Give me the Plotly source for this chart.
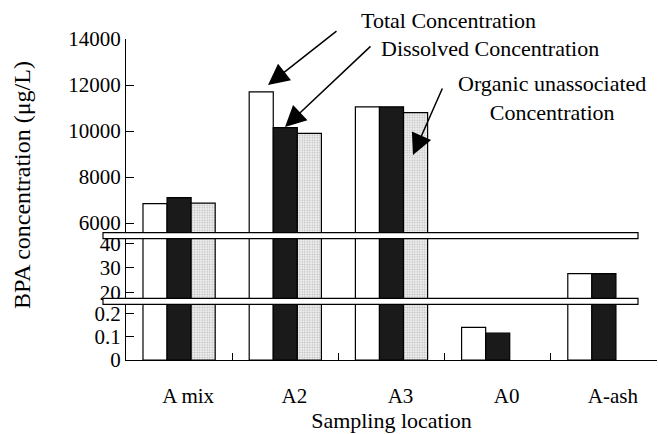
import plotly.graph_objects as go

categories = ["A mix", "A2", "A3", "A0", "A-ash"]
total = [6840, 11700, 11050, 0.14, 27.6]
dissolved = [7100, 10150, 11050, 0.115, 27.6]
organic = [6860, 9900, 10800, None, None]

series_names = ["Total Concentration", "Dissolved Concentration",
                "Organic unassociated Concentration"]

top_ticks = [6000, 8000, 10000, 12000, 14000]
mid_ticks = [20, 30, 40]
low_ticks = [0, 0.1, 0.2]

FONT = "Liberation Serif, Times New Roman, serif"

fig = go.Figure()

styles = [
    dict(color="white", line=dict(color="black", width=1.2)),
    dict(color="#1a1a1a", line=dict(color="black", width=1.2)),
    dict(color="#e6e6e6", line=dict(color="black", width=1.2),
         pattern=dict(shape=".", fgcolor="#808080", bgcolor="#f0f0f0",
                      size=2.5, solidity=0.3)),
]
data = [total, dissolved, organic]

for yax in ["y", "y2", "y3"]:
    for name, vals, st in zip(series_names, data, styles):
        fig.add_trace(go.Bar(x=categories, y=vals, name=name, marker=st,
                             yaxis=yax, xaxis="x", showlegend=False))

W, H = 658, 434
L, R, T, B = 126, 1, 39, 74
pw, ph = W - L - R, H - T - B

def px(x):
    return (x - L) / pw

def py(y):
    return (H - B - y) / ph

axis_common = dict(showline=True, linecolor="black", linewidth=1.2,
                   ticks="inside", ticklen=8, tickcolor="black",
                   showgrid=False, zeroline=False, anchor="x",
                   tickfont=dict(family=FONT, size=21, color="black"))

fig.update_layout(
    width=W, height=H,
    margin=dict(l=L, r=R, t=T, b=B),
    paper_bgcolor="white", plot_bgcolor="white",
    barmode="group", bargap=0.32, bargroupgap=0,
    font=dict(family=FONT, color="black"),
    xaxis=dict(showline=True, linecolor="black", linewidth=1.2,
               ticks="inside", ticklen=7, tickcolor="black",
               tickson="boundaries", range=[-0.5, 4.5],
               anchor="y", showgrid=False,
               tickfont=dict(family=FONT, size=21, color="black"),
               ticklabelshift=9, ticklabelstandoff=17,
               title=dict(text="Sampling location",
                          font=dict(family=FONT, size=22, color="black"),
                          standoff=4)),
    yaxis=dict(domain=[0, py(301.3)], range=[0, 0.2516],
               tickvals=low_ticks, ticktext=["0", "0.1", "0.2"],
               **axis_common),
    yaxis2=dict(domain=[py(301.3), py(235.7)], range=[16.33, 43.1],
                tickvals=mid_ticks, ticktext=[str(v) for v in mid_ticks],
                **axis_common),
    yaxis3=dict(domain=[py(235.7), 1], range=[5448, 14000],
                tickvals=top_ticks, ticktext=[str(v) for v in top_ticks],
                **axis_common),
)

# break strips
for y0, y1 in [(238.7, 232.7), (304.3, 298.3)]:
    fig.add_shape(type="rect", xref="paper", yref="paper",
                  x0=px(103), x1=px(638), y0=py(y0), y1=py(y1),
                  fillcolor="white", line=dict(color="black", width=1.2),
                  layer="above")

# y axis title
fig.add_annotation(text="BPA concentration (μg/L)", xref="paper", yref="paper",
                   x=px(22), y=py(185), textangle=-90, showarrow=False,
                   xanchor="center", yanchor="middle",
                   font=dict(family=FONT, size=24, color="black"))

# labels
for txt, cx, cy in [("Total Concentration", 448, 21),
                    ("Dissolved Concentration", 490, 48),
                    ("Organic unassociated<br>Concentration", 552, 98)]:
    fig.add_annotation(text=txt, xref="paper", yref="paper",
                       x=px(cx), y=py(cy), showarrow=False,
                       xanchor="center", yanchor="middle",
                       font=dict(family=FONT, size=22, color="black"))

# arrows
for (tx, ty), (sx, sy) in [((268, 85), (338, 30)),
                           ((285, 127), (372, 45)),
                           ((413, 155), (443, 87))]:
    fig.add_annotation(text="", xref="paper", yref="paper",
                       x=px(tx), y=py(ty), ax=sx - tx, ay=sy - ty,
                       axref="pixel", ayref="pixel",
                       showarrow=True, arrowhead=2, arrowsize=2.8,
                       arrowwidth=1.5, arrowcolor="black")

fig.write_html("out.html")
